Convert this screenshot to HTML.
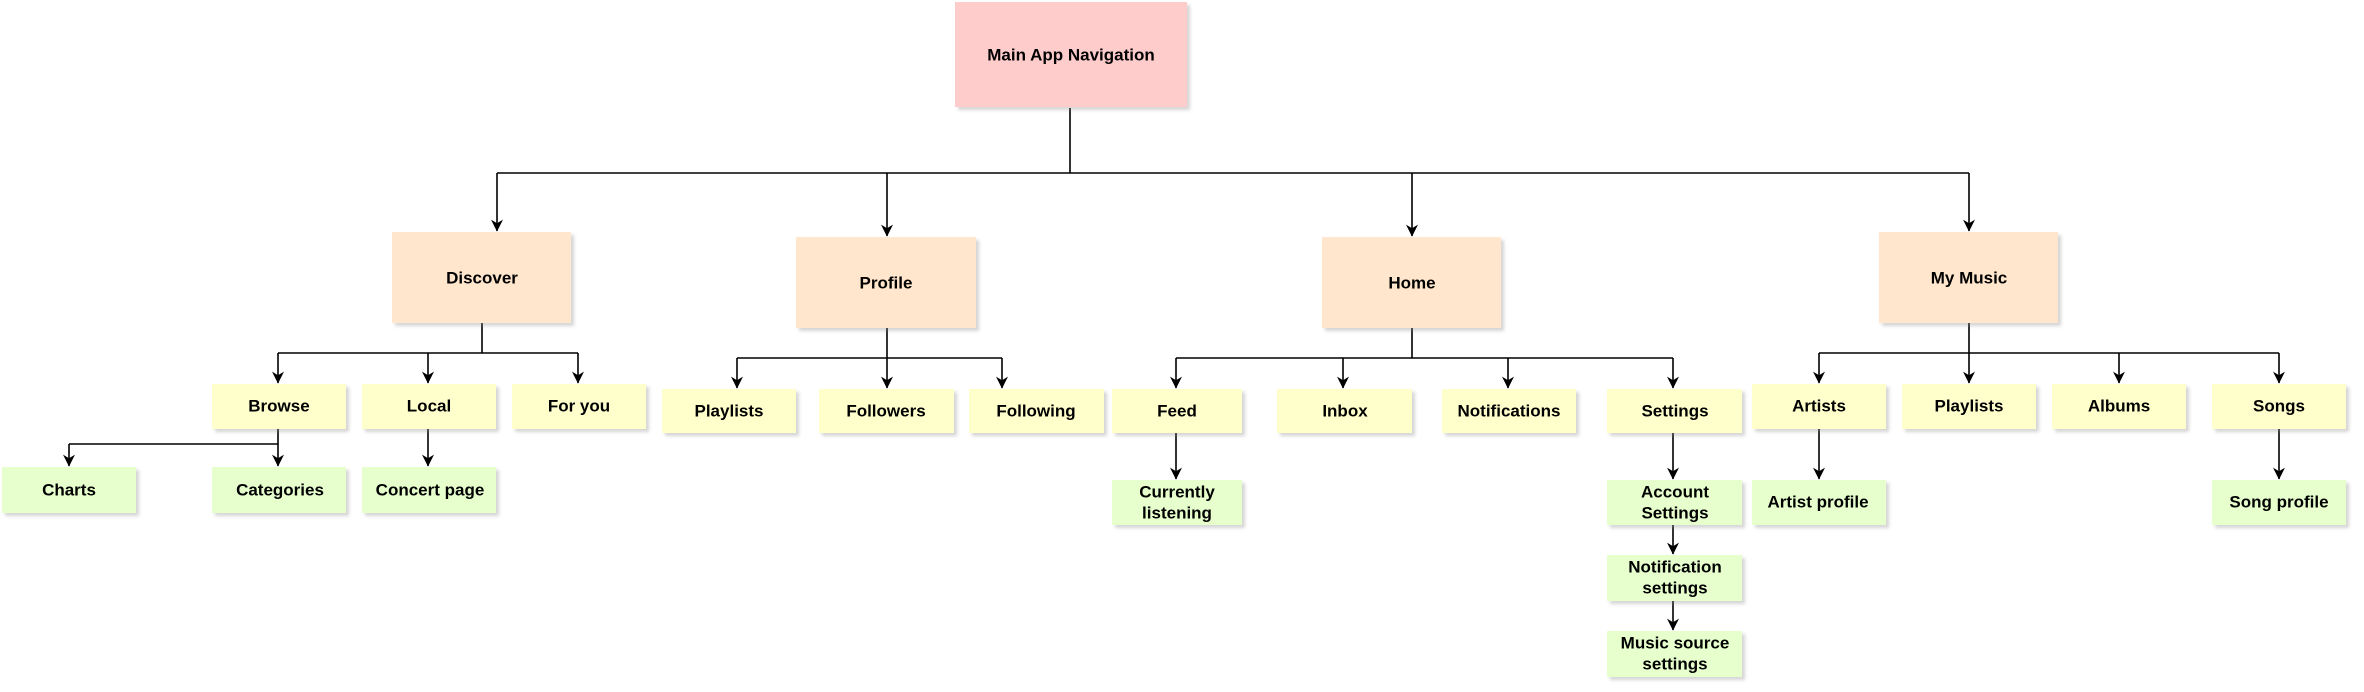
<!DOCTYPE html>
<html><head><meta charset="utf-8"><style>
html,body{margin:0;padding:0;background:#fff;}
svg text{font-family:"Liberation Sans",Arial,sans-serif;font-weight:bold;font-size:17px;fill:#000;text-anchor:middle;dominant-baseline:central;}
</style></head><body>
<svg width="2364" height="687" viewBox="0 0 2364 687" xmlns="http://www.w3.org/2000/svg">
<defs>
<marker id="a" viewBox="0 0 10 10" refX="9.5" refY="5" markerWidth="15" markerHeight="12" markerUnits="userSpaceOnUse" orient="auto">
<path d="M0,0 L10,5 L0,10 L3,5 Z" fill="#000"/></marker>
<filter id="s" x="-10%" y="-10%" width="130%" height="140%"><feGaussianBlur stdDeviation="1.5"/></filter>
</defs>
<g fill="none" stroke="#000" stroke-width="1.6">
<path d="M1070,108 V173"/>
<path d="M497,173 H1969"/>
<path d="M497,173 V231" marker-end="url(#a)"/>
<path d="M887,173 V236" marker-end="url(#a)"/>
<path d="M1412,173 V236" marker-end="url(#a)"/>
<path d="M1969,173 V231" marker-end="url(#a)"/>
<path d="M482,323 V353 M278,353 H578"/>
<path d="M278,353 V383" marker-end="url(#a)"/>
<path d="M428,353 V383" marker-end="url(#a)"/>
<path d="M578,353 V383" marker-end="url(#a)"/>
<path d="M278,429 V444 M69,444 H278"/>
<path d="M69,444 V466" marker-end="url(#a)"/>
<path d="M278,444 V466" marker-end="url(#a)"/>
<path d="M428,429 V466" marker-end="url(#a)"/>
<path d="M887,328 V358 M737,358 H1002"/>
<path d="M737,358 V388" marker-end="url(#a)"/>
<path d="M887,358 V388" marker-end="url(#a)"/>
<path d="M1002,358 V388" marker-end="url(#a)"/>
<path d="M1412,328 V358 M1176,358 H1673"/>
<path d="M1176,358 V388" marker-end="url(#a)"/>
<path d="M1343,358 V388" marker-end="url(#a)"/>
<path d="M1508,358 V388" marker-end="url(#a)"/>
<path d="M1673,358 V388" marker-end="url(#a)"/>
<path d="M1176,433 V479" marker-end="url(#a)"/>
<path d="M1673,433 V479" marker-end="url(#a)"/>
<path d="M1673,525 V554" marker-end="url(#a)"/>
<path d="M1673,601 V630" marker-end="url(#a)"/>
<path d="M1969,323 V353 M1819,353 H2279"/>
<path d="M1819,353 V383" marker-end="url(#a)"/>
<path d="M1969,353 V383" marker-end="url(#a)"/>
<path d="M2119,353 V383" marker-end="url(#a)"/>
<path d="M2279,353 V383" marker-end="url(#a)"/>
<path d="M1819,429 V479" marker-end="url(#a)"/>
<path d="M2279,429 V479" marker-end="url(#a)"/>
</g>
<g>
<rect x="958" y="5" width="232" height="105" fill="#888" opacity=".35" filter="url(#s)"/>
<rect x="955" y="2" width="232" height="105" fill="#ffcccc"/>
<text x="1071" y="55">Main App Navigation</text>
<rect x="395" y="235" width="179" height="91" fill="#888" opacity=".35" filter="url(#s)"/>
<rect x="392" y="232" width="179" height="91" fill="#ffe6cc"/>
<text x="482" y="278">Discover</text>
<rect x="799" y="240" width="180" height="91" fill="#888" opacity=".35" filter="url(#s)"/>
<rect x="796" y="237" width="180" height="91" fill="#ffe6cc"/>
<text x="886" y="283">Profile</text>
<rect x="1325" y="240" width="179" height="91" fill="#888" opacity=".35" filter="url(#s)"/>
<rect x="1322" y="237" width="179" height="91" fill="#ffe6cc"/>
<text x="1412" y="283">Home</text>
<rect x="1882" y="235" width="179" height="91" fill="#888" opacity=".35" filter="url(#s)"/>
<rect x="1879" y="232" width="179" height="91" fill="#ffe6cc"/>
<text x="1969" y="278">My Music</text>
</g>
<g>
<g fill="#888" opacity=".35" filter="url(#s)">
<rect x="215" y="387" width="134" height="45"/><rect x="365" y="387" width="134" height="45"/><rect x="515" y="387" width="134" height="45"/>
<rect x="665" y="392" width="134" height="44"/><rect x="822" y="392" width="135" height="44"/><rect x="972" y="392" width="135" height="44"/>
<rect x="1115" y="392" width="130" height="44"/><rect x="1280" y="392" width="135" height="44"/><rect x="1445" y="392" width="134" height="44"/><rect x="1610" y="392" width="135" height="44"/>
<rect x="1755" y="387" width="134" height="45"/><rect x="1905" y="387" width="134" height="45"/><rect x="2055" y="387" width="134" height="45"/><rect x="2215" y="387" width="134" height="45"/>
<rect x="5" y="470" width="134" height="46"/><rect x="215" y="470" width="134" height="46"/><rect x="365" y="470" width="134" height="46"/>
<rect x="1115" y="483" width="130" height="45"/><rect x="1610" y="483" width="135" height="45"/><rect x="1610" y="558" width="135" height="46"/><rect x="1610" y="634" width="135" height="46"/>
<rect x="1755" y="483" width="134" height="45"/><rect x="2215" y="483" width="134" height="45"/>
</g>
<g fill="#ffffcc">
<rect x="212" y="384" width="134" height="45"/><rect x="362" y="384" width="134" height="45"/><rect x="512" y="384" width="134" height="45"/>
<rect x="662" y="389" width="134" height="44"/><rect x="819" y="389" width="135" height="44"/><rect x="969" y="389" width="135" height="44"/>
<rect x="1112" y="389" width="130" height="44"/><rect x="1277" y="389" width="135" height="44"/><rect x="1442" y="389" width="134" height="44"/><rect x="1607" y="389" width="135" height="44"/>
<rect x="1752" y="384" width="134" height="45"/><rect x="1902" y="384" width="134" height="45"/><rect x="2052" y="384" width="134" height="45"/><rect x="2212" y="384" width="134" height="45"/>
</g>
<g fill="#e6ffcc">
<rect x="2" y="467" width="134" height="46"/><rect x="212" y="467" width="134" height="46"/><rect x="362" y="467" width="134" height="46"/>
<rect x="1112" y="480" width="130" height="45"/><rect x="1607" y="480" width="135" height="45"/><rect x="1607" y="555" width="135" height="46"/><rect x="1607" y="631" width="135" height="46"/>
<rect x="1752" y="480" width="134" height="45"/><rect x="2212" y="480" width="134" height="45"/>
</g>
<text x="279" y="406">Browse</text><text x="429" y="406">Local</text><text x="579" y="406">For you</text>
<text x="729" y="411">Playlists</text><text x="886" y="411">Followers</text><text x="1036" y="411">Following</text>
<text x="1177" y="411">Feed</text><text x="1345" y="411">Inbox</text><text x="1509" y="411">Notifications</text><text x="1675" y="411">Settings</text>
<text x="1819" y="406">Artists</text><text x="1969" y="406">Playlists</text><text x="2119" y="406">Albums</text><text x="2279" y="406">Songs</text>
<text x="69" y="490">Charts</text><text x="280" y="490">Categories</text><text x="430" y="490">Concert page</text>
<text x="1177" y="492">Currently</text><text x="1177" y="513">listening</text>
<text x="1675" y="492">Account</text><text x="1675" y="513">Settings</text>
<text x="1675" y="567">Notification</text><text x="1675" y="588">settings</text>
<text x="1675" y="643">Music source</text><text x="1675" y="664">settings</text>
<text x="1818" y="502">Artist profile</text><text x="2279" y="502">Song profile</text>
</g>
</svg>
</body></html>
